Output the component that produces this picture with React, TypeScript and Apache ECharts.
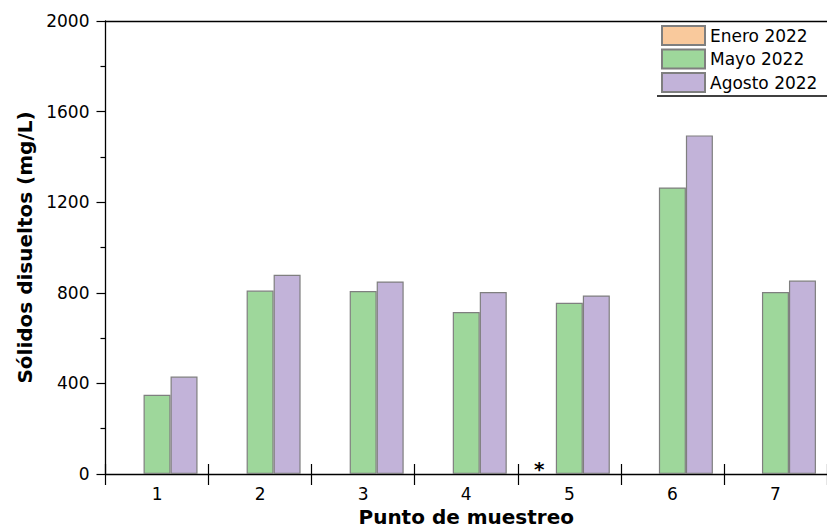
import React, { useEffect, useRef } from "react";
import * as echarts from "echarts";

// Sampling points and dissolved-solids readings (mg/L)
const puntos = ["1", "2", "3", "4", "5", "6", "7"];
const enero2022: (number | null)[] = [null, null, null, null, 0, null, null];
const mayo2022 = [350, 810, 808, 715, 756, 1265, 803];
const agosto2022 = [430, 880, 850, 803, 788, 1495, 854];
const yTicks = { min: 0, max: 2000, interval: 400 };

const FONT = "DejaVu Sans";
const BORDER = "#7f7f7f";

export default function App() {
  const ref = useRef<HTMLDivElement>(null);

  useEffect(() => {
    if (!ref.current) return;
    const chart = echarts.init(ref.current, null, { renderer: "svg" });

    const barStyle = (color: string) => ({
      color,
      borderColor: BORDER,
      borderWidth: 1.2,
    });

    // Enero has no measurements; point 5 is flagged with an asterisk
    const eneroData = enero2022.map((v) =>
      v === null
        ? null
        : {
            value: v,
            itemStyle: { color: "transparent", borderWidth: 0 },
            label: {
              show: true,
              position: "top",
              formatter: "*",
              offset: [-3, 10],
              fontFamily: FONT,
              fontWeight: "bold",
              fontSize: 20,
              color: "#000",
            },
          }
    );

    chart.setOption({
      animation: false,
      grid: { left: 105.5, right: 0, top: 21, bottom: 56 },
      legend: {
        orient: "vertical",
        left: 661,
        top: 25,
        padding: 0,
        itemWidth: 43,
        itemHeight: 19,
        itemGap: 2.5,
        icon: "rect",
        selectedMode: false,
        textStyle: { fontFamily: FONT, fontSize: 17, lineHeight: 19, color: "#000" },
        data: ["Enero 2022", "Mayo 2022", "Agosto 2022"],
      },
      xAxis: [
        {
          type: "category",
          data: puntos,
          position: "bottom",
          name: "Punto de muestreo",
          nameLocation: "middle",
          nameGap: 33,
          nameTextStyle: {
            fontFamily: FONT,
            fontWeight: "bold",
            fontSize: 20,
            color: "#000",
          },
          axisLine: { lineStyle: { color: "#000", width: 1.3 } },
          axisTick: { show: true, inside: false, length: 11, lineStyle: { color: "#000", width: 1.2 } },
          axisLabel: { fontFamily: FONT, fontSize: 17, color: "#000", margin: 11 },
          splitLine: { show: false },
        },
        {
          // inner half of the crossing category-boundary ticks
          type: "category",
          data: puntos,
          position: "bottom",
          axisLine: { show: false },
          axisTick: { show: true, inside: true, length: 10, lineStyle: { color: "#000", width: 1.2 } },
          axisLabel: { show: false },
          splitLine: { show: false },
        },
        {
          // top frame line
          type: "category",
          data: puntos,
          position: "top",
          axisLine: { show: true, lineStyle: { color: "#000", width: 1.3 } },
          axisTick: { show: false },
          axisLabel: { show: false },
          splitLine: { show: false },
        },
      ],
      yAxis: {
        type: "value",
        min: yTicks.min,
        max: yTicks.max,
        interval: yTicks.interval,
        name: "Sólidos disueltos (mg/L)",
        nameLocation: "middle",
        nameGap: 68,
        nameTextStyle: {
          fontFamily: FONT,
          fontWeight: "bold",
          fontSize: 20,
          color: "#000",
        },
        axisLine: { show: true, lineStyle: { color: "#000", width: 1.3 } },
        axisTick: { show: true, inside: false, length: 9, lineStyle: { color: "#000", width: 1.2 } },
        minorTick: { show: true, splitNumber: 2, length: 5, lineStyle: { color: "#000", width: 1.2 } },
        axisLabel: {
          fontFamily: FONT,
          fontSize: 17,
          color: "#000",
          margin: 16,
          formatter: (v: number) => String(v),
        },
        splitLine: { show: false },
      },
      series: [
        {
          name: "Enero 2022",
          type: "bar",
          barWidth: 27,
          barGap: "0%",
          itemStyle: barStyle("#f9c99c"),
          data: eneroData,
        },
        {
          name: "Mayo 2022",
          type: "bar",
          barWidth: 27,
          barGap: "0%",
          itemStyle: barStyle("#9ed79b"),
          data: mayo2022,
        },
        {
          name: "Agosto 2022",
          type: "bar",
          barWidth: 27,
          barGap: "0%",
          itemStyle: barStyle("#c2b3d9"),
          data: agosto2022,
        },
      ],
      graphic: [
        {
          type: "line",
          shape: { x1: 657, y1: 96, x2: 827, y2: 96 },
          style: { stroke: "#000", lineWidth: 1.3 },
        },
      ],
    });

    return () => chart.dispose();
  }, []);

  return (
    <div
      ref={ref}
      style={{ position: "fixed", left: 0, top: 0, width: 827, height: 532, background: "#fff" }}
    />
  );
}
